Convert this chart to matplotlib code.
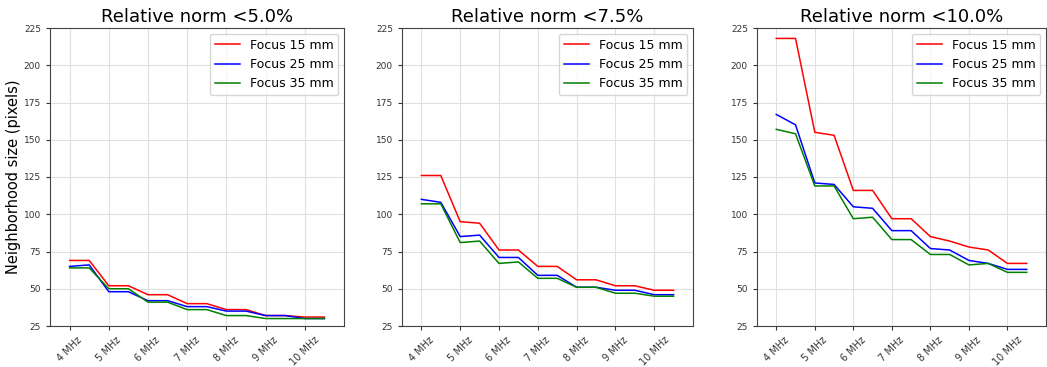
import numpy as np
import matplotlib.pyplot as plt

# frequency steps (0.5 MHz apart), every second one gets a label
freq_labels = ['4 MHz', '5 MHz', '6 MHz', '7 MHz', '8 MHz', '9 MHz', '10 MHz']
thresholds = ['5.0', '7.5', '10.0']
focus_names = ['Focus 15 mm', 'Focus 25 mm', 'Focus 35 mm']
colors = ['red', 'blue', 'green']

# neighborhood size per threshold, one list per focus depth
norm_5_0 = [
    [69, 69, 52, 52, 46, 46, 40, 40, 36, 36, 32, 32, 31, 31],
    [65, 66, 48, 48, 42, 42, 38, 38, 35, 35, 32, 32, 30, 30],
    [64, 64, 50, 50, 41, 41, 36, 36, 32, 32, 30, 30, 30, 30],
]
norm_7_5 = [
    [126, 126, 95, 94, 76, 76, 65, 65, 56, 56, 52, 52, 49, 49],
    [110, 108, 85, 86, 71, 71, 59, 59, 51, 51, 49, 49, 46, 46],
    [107, 107, 81, 82, 67, 68, 57, 57, 51, 51, 47, 47, 45, 45],
]
norm_10_0 = [
    [218, 218, 155, 153, 116, 116, 97, 97, 85, 82, 78, 76, 67, 67],
    [167, 160, 121, 120, 105, 104, 89, 89, 77, 76, 69, 67, 63, 63],
    [157, 154, 119, 119, 97, 98, 83, 83, 73, 73, 66, 67, 61, 61],
]
all_data = [norm_5_0, norm_7_5, norm_10_0]

fig = plt.figure(figsize=(10.47, 3.67), dpi=100)
lefts = [50, 402, 757]
rights = [344, 693, 1046]
bottom, top = 41, 339

for k in range(3):
    ax = fig.add_axes([lefts[k] / 1047, bottom / 367,
                       (rights[k] - lefts[k]) / 1047, (top - bottom) / 367])
    series = all_data[k]
    x = np.arange(len(series[0]))
    for vals, name, c in zip(series, focus_names, colors):
        ax.plot(x, vals, color=c, lw=1.1, label=name)
    ax.set_xlim(-1, 14)
    ax.set_ylim(25, 225)
    ax.set_yticks(np.arange(25, 226, 25))
    ax.set_xticks(x[::2])
    ax.set_xticklabels(freq_labels, rotation=45, fontsize=7, color='#333333')
    ax.tick_params(axis='y', labelsize=6.5, colors='#333333', length=3)
    ax.tick_params(axis='x', colors='#333333', length=3)
    ax.grid(True, color='#e0e0e0', lw=0.8)
    ax.set_axisbelow(True)
    for s in ax.spines.values():
        s.set_color('#444444')
    ax.set_title('Relative norm <%s%%' % thresholds[k], fontsize=13, pad=4)
    ax.legend(loc='upper right', fontsize=9, borderaxespad=0.45)
    if k == 0:
        ax.set_ylabel('Neighborhood size (pixels)', fontsize=10.5, labelpad=2)

fig.savefig('out.png', dpi=100)
